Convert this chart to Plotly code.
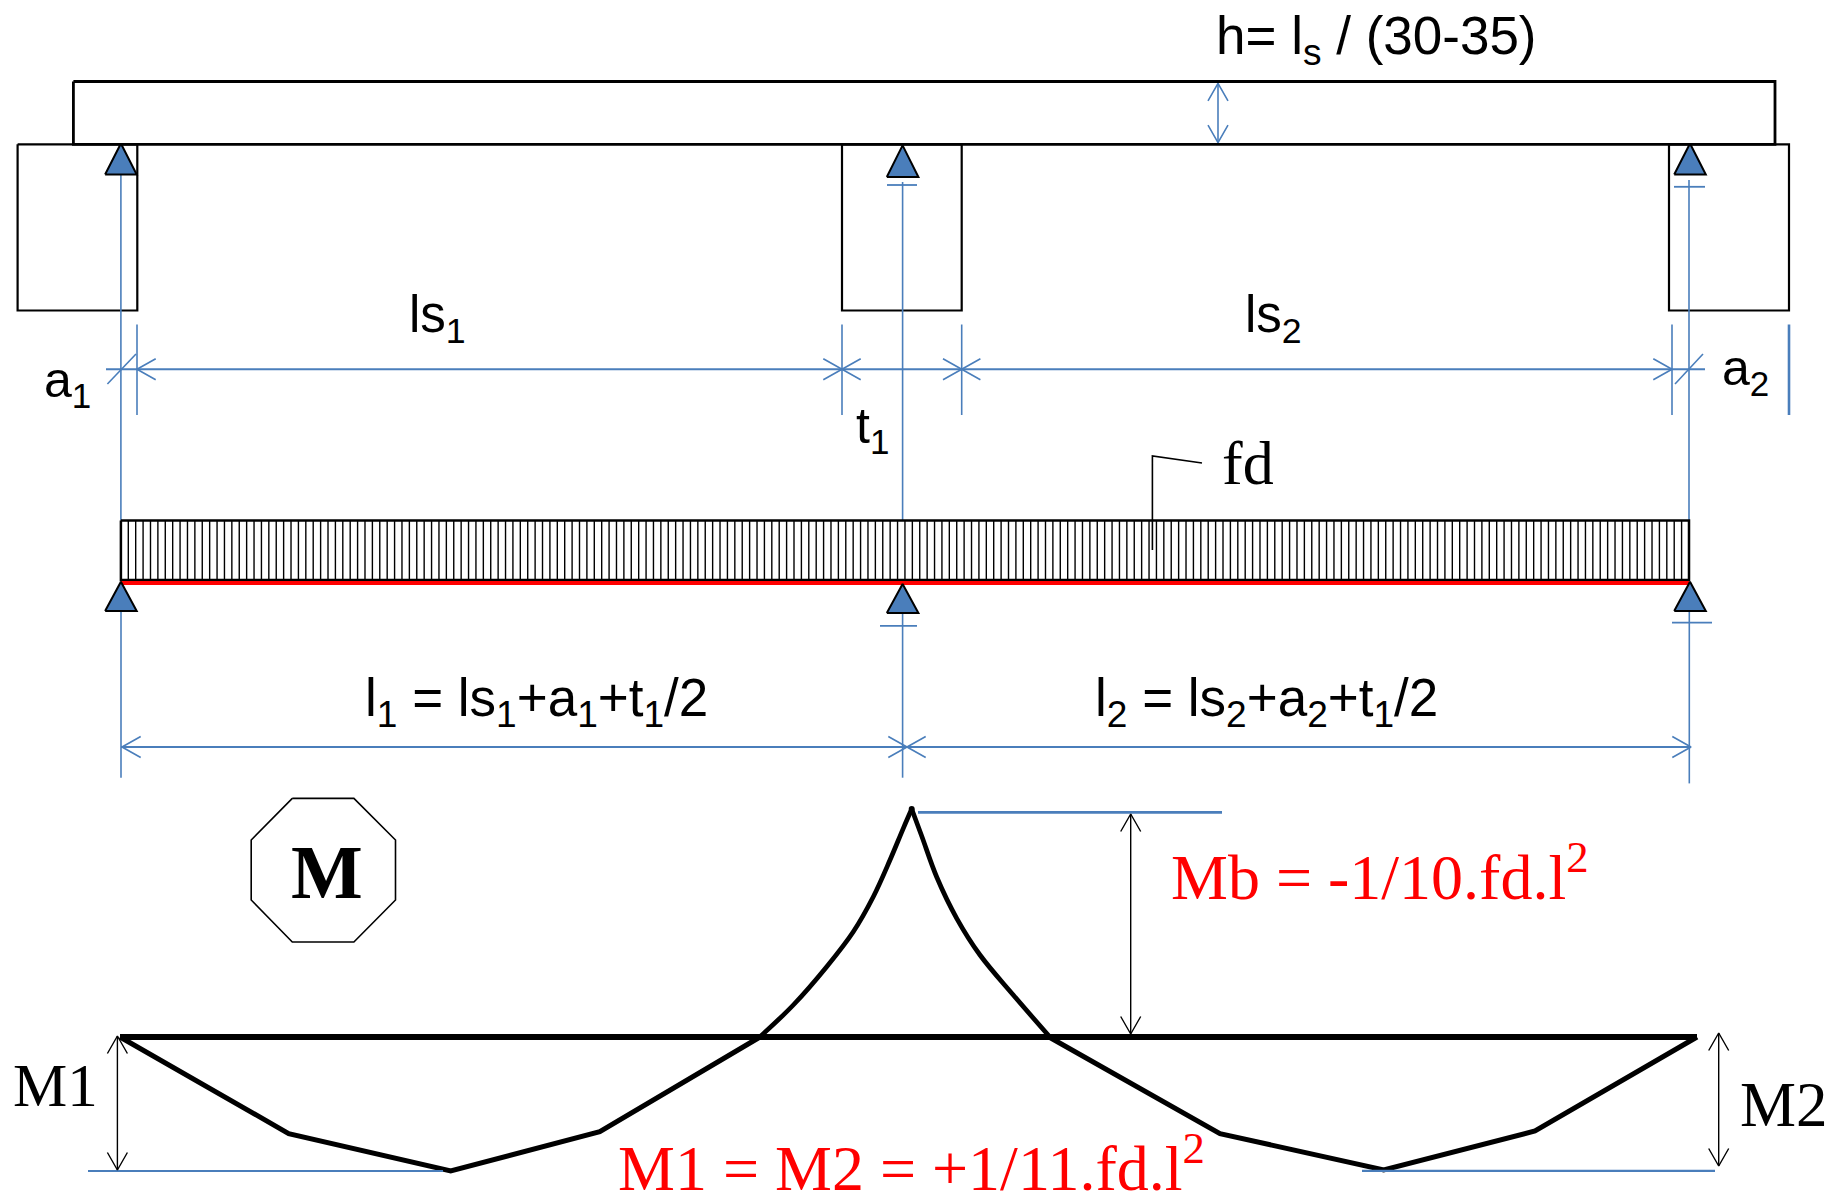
import plotly.graph_objects as go

BLUE = "#4a7ebb"
# named geometry (image pixels)
beam_x = [73.4, 1775]; beam_y = [81.5, 144.3]
support_left = [17.6, 137.3]; support_mid = [842, 961.7]; support_right = [1669, 1789]
support_y = [144.3, 310.5]
pin_x = [120.9, 902.6, 1690]
pin_upper_apex = [143.5, 145.4, 143.5]
pin_upper_base = [174.5, 177, 174.5]
pin_lower_apex = [581.7, 584, 581.7]
pin_lower_base = [611, 613, 611]
load_x = [120.9, 1689]; load_y = [520.5, 580]; red_y = 583
hatch_count = 212
moment_base_x = [120, 1697]; moment_base_y = 1037
moment_left_x = [120, 288.7, 450.7, 599.8, 760]
moment_left_y = [1037, 1133.6, 1171, 1131.7, 1037]
curve_left_x = [760, 793.3, 826.7, 853.3, 873.3, 890, 903.3, 911.7]
curve_left_y = [1036.7, 1005, 966.7, 931.7, 896.7, 860, 828.3, 809]
curve_right_x = [911.7, 921.7, 936.7, 956.7, 980, 1013.3, 1049]
curve_right_y = [809, 836, 877, 918.3, 955, 995, 1036]
moment_right_x = [1049, 1220, 1383.7, 1535, 1697]
moment_right_y = [1037, 1133.6, 1170, 1131, 1037]
octagon_x = [292.3, 353.9, 395.5, 395.5, 353.9, 292.3, 251.2, 251.2, 292.3]
octagon_y = [798.4, 798.4, 840, 900, 942, 942, 900, 840, 798.4]

fig = go.Figure()

def path(xs, ys, color="black", width=1.5, fill=None, shape="linear"):
    fig.add_trace(go.Scatter(x=xs, y=ys, mode="lines", hoverinfo="skip", showlegend=False,
                             line=dict(color=color, width=width, simplify=False, shape=shape),
                             fill="toself" if fill else None, fillcolor=fill))

def box(x, y, width=2.2):
    path([x[0], x[1], x[1], x[0], x[0]], [y[0], y[0], y[1], y[1], y[0]], width=width)

def arrow_h(x, y, d, blen=18.7, half=10.5, color=BLUE, width=1.6):
    path([x - d * blen, x, x - d * blen], [y - half, y, y + half], color, width)

def arrow_v(x, y, d, blen=17.5, half=10, color="black", width=1.4):
    path([x - half, x, x + half], [y - d * blen, y, y - d * blen], color, width)

# beam and supports
box(support_left, support_y)
box(support_mid, support_y)
box(support_right, support_y)
box(beam_x, beam_y, 2.8)

# blue vertical lines
path([120.9, 120.9], [174, 520], BLUE, 1.6)
path([902.6, 902.6], [182, 520], BLUE, 1.6)
path([1689, 1689], [180, 520], BLUE, 1.6)
path([887, 917], [185, 185], BLUE, 1.8)
path([1674, 1705], [186.8, 186.8], BLUE, 1.8)
path([121, 121], [611, 777.7], BLUE, 1.6)
path([902.6, 902.6], [613, 777.7], BLUE, 1.6)
path([1689.3, 1689.3], [611, 783.4], BLUE, 1.6)
path([880, 917], [625.8, 625.8], BLUE, 1.8)
path([1672, 1712], [622.7, 622.7], BLUE, 1.8)

# upper dimension line
dim_y = 369.3
path([106, 1705], [dim_y, dim_y], BLUE, 2)
for ex, w in [(137, 1.6), (842, 1.6), (961.7, 1.6), (1672, 1.6), (1789, 2.6)]:
    path([ex, ex], [324.5, 415], BLUE, w)
path([107.4, 136], [384, 354], BLUE, 1.6)
path([1675, 1703], [384, 354], BLUE, 1.6)
arrow_h(137, dim_y, -1)
arrow_h(842, dim_y, 1)
arrow_h(842, dim_y, -1)
arrow_h(961.7, dim_y, 1)
arrow_h(961.7, dim_y, -1)
arrow_h(1672, dim_y, 1)

# lower dimension line
low_y = 747
path([121, 1691], [low_y, low_y], BLUE, 2)
arrow_h(122, low_y, -1)
arrow_h(907, low_y, 1)
arrow_h(907, low_y, -1)
arrow_h(1691, low_y, 1)

# height arrow
path([1218, 1218], [83.4, 142.7], BLUE, 1.6)
arrow_v(1218, 83.4, -1, color=BLUE, width=1.6)
arrow_v(1218, 142.7, 1, color=BLUE, width=1.6)

# load block with hatching
hx, hy = [], []
step = (load_x[1] - load_x[0]) / hatch_count
for i in range(hatch_count + 1):
    hx += [load_x[0] + i * step, load_x[0] + i * step, None]
    hy += [load_y[0], load_y[1], None]
path(hx, hy, "black", 1.4)
box(load_x, load_y, 2.5)
path(load_x, [red_y, red_y], "#ff0000", 4)

# fd leader
path([1202, 1152.4, 1152.4], [463, 456, 550], "black", 1.6)

# pins
for x, a, b in zip(pin_x, pin_upper_apex, pin_upper_base):
    path([x - 15.8, x, x + 15.8, x - 15.8], [b, a, b, b], "black", 2, BLUE)
for x, a, b in zip(pin_x, pin_lower_apex, pin_lower_base):
    path([x - 15.8, x, x + 15.8, x - 15.8], [b, a, b, b], "black", 2, BLUE)

# octagon
path(octagon_x, octagon_y, "black", 1.6)

# moment diagram
path(moment_base_x, [moment_base_y, moment_base_y], "black", 6)
path(moment_left_x, moment_left_y, "black", 5)
path(curve_left_x, curve_left_y, "black", 4.7, shape="spline")
path(curve_right_x, curve_right_y, "black", 4.7, shape="spline")
path(moment_right_x, moment_right_y, "black", 5)
fig.add_trace(go.Scatter(x=curve_left_x[-1:], y=curve_left_y[-1:], mode="markers", hoverinfo="skip",
                         showlegend=False, marker=dict(color="black", size=6)))
path([918, 1222], [812.3, 812.3], BLUE, 2.7)
path([88, 443], [1171, 1171], BLUE, 2.2)
path([1362, 1715], [1170.8, 1170.8], BLUE, 2.2)

# black double arrows
for x, y0, y1 in [(117.4, 1036, 1170), (1130.7, 814, 1034), (1718.7, 1033, 1166)]:
    path([x, x], [y0, y1], "black", 1.4)
    arrow_v(x, y0, -1)
    arrow_v(x, y1, 1)

SANS = "Liberation Sans"
SERIF = "Liberation Serif"
def label(x, y, text, family, size, color="black", bold=False, yshift=0):
    fig.add_annotation(x=x, y=y, text=f"<b>{text}</b>" if bold else text, xref="x", yref="y",
                       xanchor="left", yanchor="bottom", showarrow=False, align="left", yshift=yshift,
                       borderpad=0, font=dict(family=family, size=size, color=color))

label(1214.5, 74, "h= l<sub>s</sub> / (30-35)", SANS, 53)
label(408, 352, "ls<sub>1</sub>", SANS, 51)
label(1244, 352, "ls<sub>2</sub>", SANS, 51)
label(42.5, 416, "a<sub>1</sub>", SANS, 50)
label(1721, 404, "a<sub>2</sub>", SANS, 50)
label(855, 462, "t<sub>1</sub>", SANS, 50)
label(363.5, 736, "l<sub>1</sub> = ls<sub>1</sub>+a<sub>1</sub>+t<sub>1</sub>/2", SANS, 53)
label(1094, 736, "l<sub>2</sub> = ls<sub>2</sub>+a<sub>2</sub>+t<sub>1</sub>/2", SANS, 53)
label(1221, 498, "fd", SERIF, 62)
label(12, 1120, "M1", SERIF, 61)
label(1739, 1141, "M2", SERIF, 63)
label(290, 915, "M", SERIF, 76, bold=True)
label(1170, 914, "Mb = -1/10.fd.l<sup>2</sup>", SERIF, 64, "#ff0000")
label(617, 1190, "M1 = M2 = +1/11.fd.l<sup>2</sup>", SERIF, 64, "#ff0000", yshift=-15)

fig.update_layout(width=1833, height=1194, margin=dict(l=0, r=0, t=0, b=0),
                  paper_bgcolor="white", plot_bgcolor="white", showlegend=False,
                  xaxis=dict(range=[0, 1833], visible=False, fixedrange=True),
                  yaxis=dict(range=[1194, 0], visible=False, fixedrange=True))
fig.write_html("out.html", config=dict(displayModeBar=False),
               post_script="document.body.style.margin='0';document.body.style.overflow='hidden';")
